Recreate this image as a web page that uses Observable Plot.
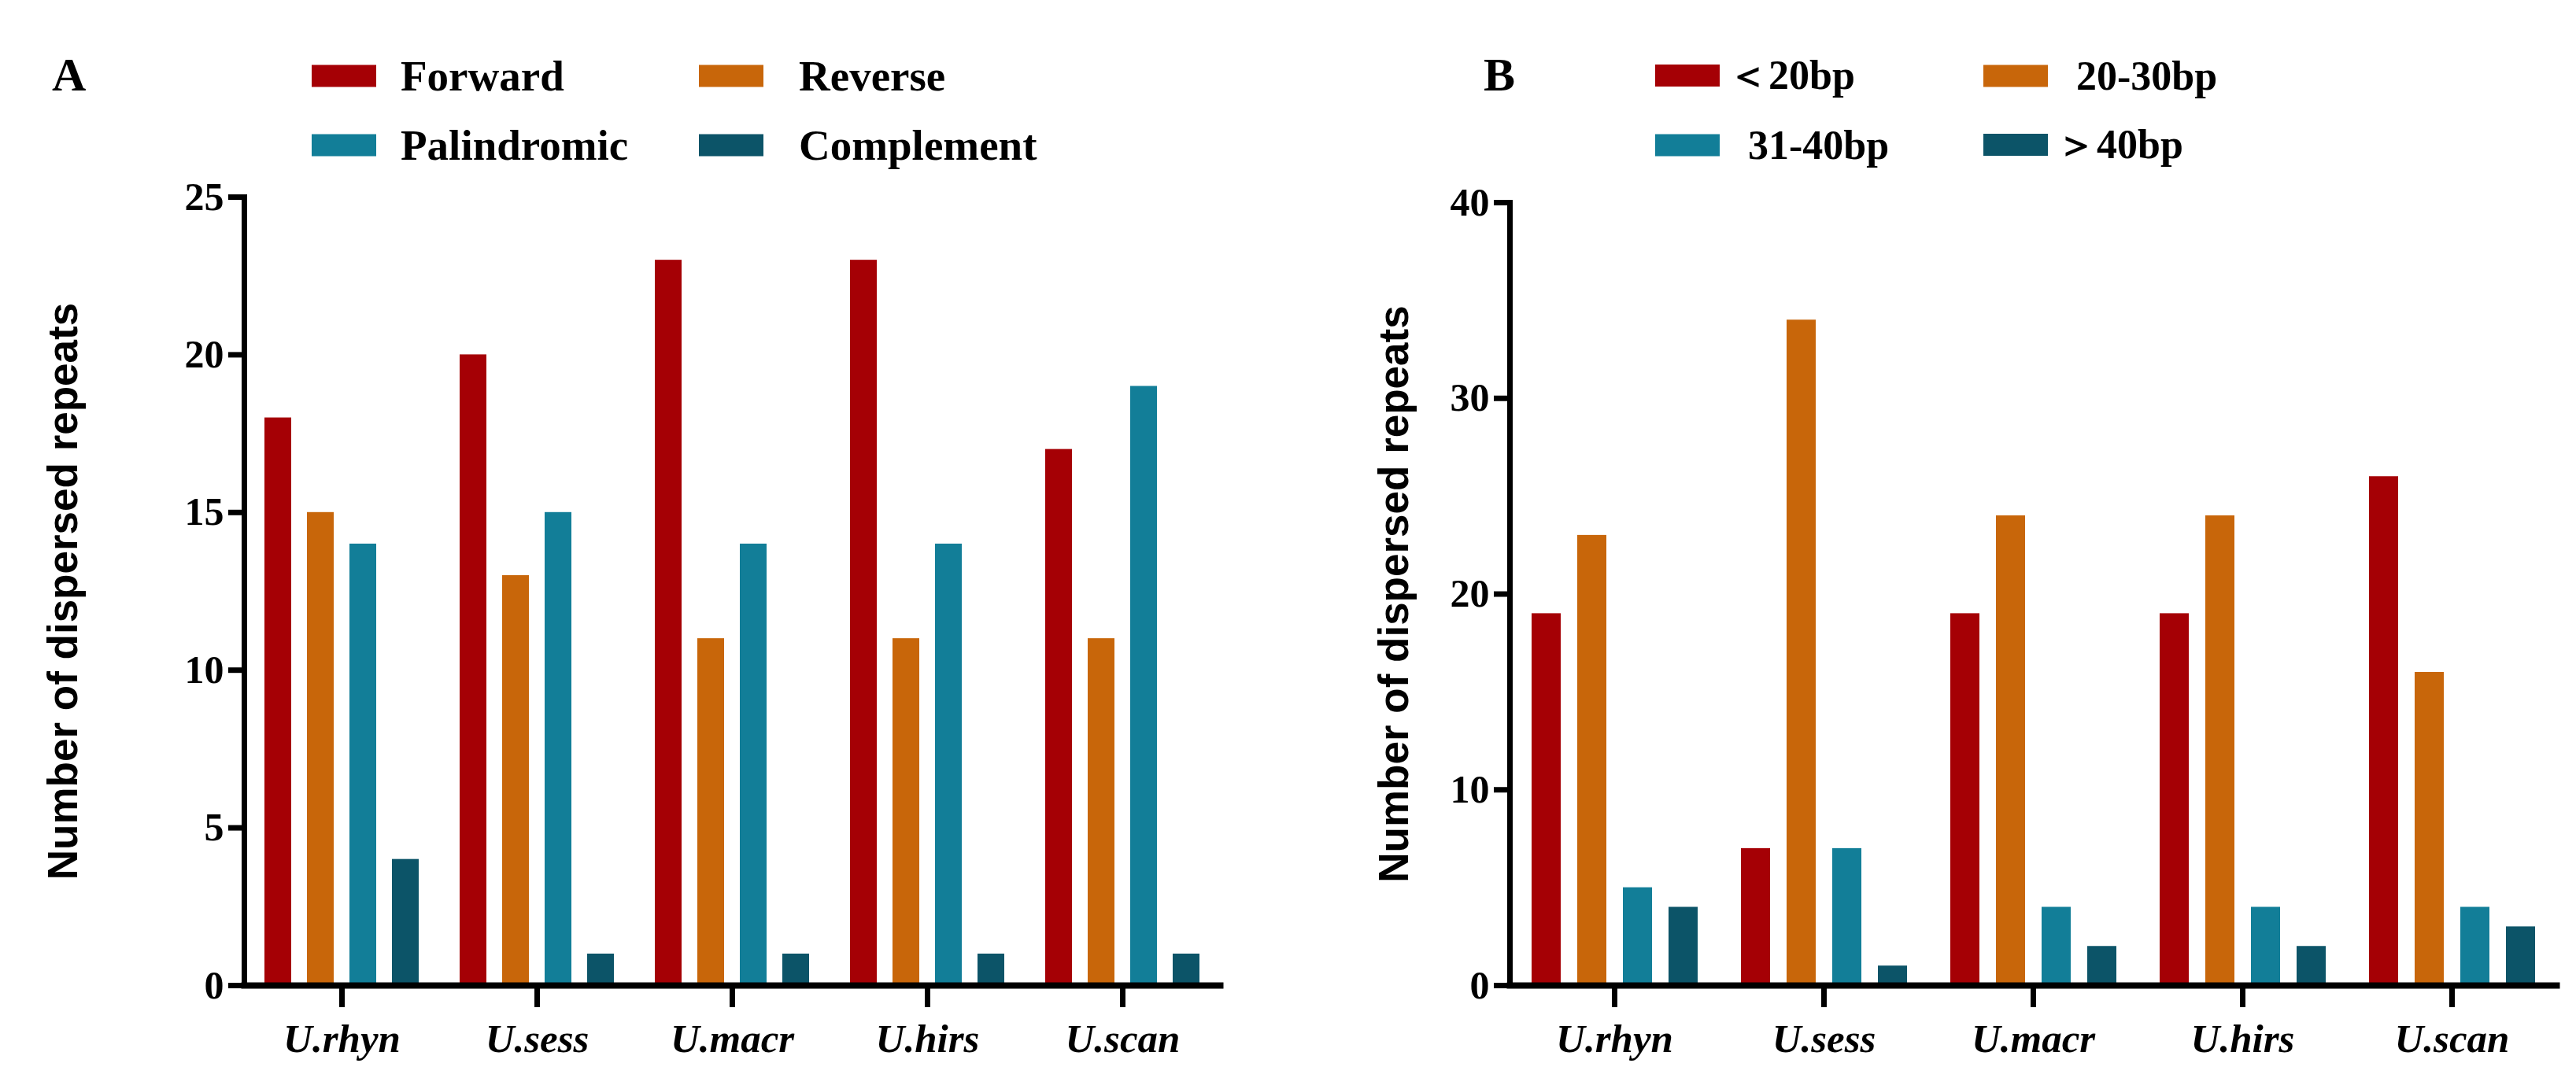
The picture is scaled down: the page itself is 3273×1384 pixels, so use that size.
<!DOCTYPE html>
<html>
<head>
<meta charset="utf-8">
<script src="https://cdn.jsdelivr.net/npm/d3@7"></script>
<script src="https://cdn.jsdelivr.net/npm/@observablehq/plot@0.6"></script>
<style>
html, body { margin: 0; padding: 0; background: #fff; }
#root { position: relative; width: 3273px; height: 1384px; overflow: hidden; background: #fff; }
.panel { position: absolute; top: 180px; }
.tag { position: absolute; font: bold 60px "Liberation Serif", serif; line-height: 1; }
.item { position: absolute; display: flex; align-items: center; white-space: nowrap;
        font-family: "Liberation Serif", serif; font-weight: bold; transform: translateY(-50%); }
.sw { width: 82px; height: 28px; }
svg g[aria-label="fx-axis tick label"] { font-style: italic; }
svg g[aria-label="y-axis label"] { font-family: "Liberation Sans", Arial, sans-serif; }
</style>
</head>
<body>
<div id="root"></div>
<script>
// ---- data ----
const categories = ["U.rhyn", "U.sess", "U.macr", "U.hirs", "U.scan"];

const seriesA = ["Forward", "Reverse", "Palindromic", "Complement"];
const forward = [18, 20, 23, 23, 17];
const reverse = [15, 13, 11, 11, 11];
const palindromic = [14, 15, 14, 14, 19];
const complement = [4, 1, 1, 1, 1];

const seriesB = ["＜20bp", "20-30bp", "31-40bp", "＞40bp"];
const lt20 = [19, 7, 19, 19, 26];
const bp20to30 = [23, 34, 24, 24, 16];
const bp31to40 = [5, 7, 4, 4, 4];
const gt40 = [4, 1, 2, 2, 3];

const yTicksA = [0, 5, 10, 15, 20, 25];
const yTicksB = [0, 10, 20, 30, 40];
const yTitle = "Number of dispersed repeats";
const palette = ["#A50005", "#C8660A", "#127E98", "#0C5468"];

function tidy(series, lists) {
  const rows = [];
  series.forEach((s, i) => categories.forEach((c, j) => rows.push({cat: c, series: s, value: lists[i][j]})));
  return rows;
}
const dataA = tidy(seriesA, [forward, reverse, palindromic, complement]);
const dataB = tidy(seriesB, [lt20, bp20to30, bp31to40, gt40]);

function panel(data, series, yTicks, o) {
  return Plot.plot({
    width: o.width, height: 1204,
    marginLeft: o.marginLeft, marginRight: o.marginRight,
    marginTop: o.marginTop, marginBottom: 132,
    style: {background: "transparent", color: "black", fontFamily: "'Liberation Serif', serif",
            fontWeight: "bold", fontSize: "50px", overflow: "visible"},
    fx: {domain: categories, padding: 0, label: null},
    x: {domain: series, paddingInner: 0.37, paddingOuter: 0.45, axis: null},
    y: {domain: [yTicks[0], yTicks[yTicks.length - 1]], axis: null},
    color: {domain: series, range: palette},
    marks: [
      Plot.barY(data, {fx: "cat", x: "series", y: "value", fill: "series"}),
      Plot.frame({anchor: "left", facet: "super", stroke: "black", strokeWidth: 7}),
      Plot.frame({anchor: "bottom", facet: "super", stroke: "black", strokeWidth: 8}),
      Plot.axisY({ticks: yTicks, tickFormat: d => String(d), tickSize: 20, tickPadding: 6,
                  strokeWidth: 7, fontSize: 50, label: yTitle, labelAnchor: "center",
                  labelArrow: "none", labelOffset: o.labelOffset}),
      Plot.axisFx({anchor: "bottom", tickSize: 28, tickPadding: 20, strokeWidth: 7, fontSize: 51, label: null})
    ]
  });
}

const root = document.getElementById("root");

const svgA = panel(dataA, seriesA, yTicksA, {width: 1600, marginLeft: 309, marginRight: 49, marginTop: 70, labelOffset: 250});
svgA.classList.add("panel"); svgA.style.left = "0px";
svgA.querySelectorAll('g[aria-label="y-axis label"] text').forEach(t => t.style.fontSize = "53px");
root.appendChild(svgA);

const svgB = panel(dataB, seriesB, yTicksB, {width: 1657, marginLeft: 300, marginRight: 23, marginTop: 77, labelOffset: 167});
svgB.classList.add("panel"); svgB.style.left = "1616px";
svgB.querySelectorAll('g[aria-label="y-axis label"] text').forEach(t => t.style.fontSize = "53px");
root.appendChild(svgB);

function tag(text, x, y) {
  const d = document.createElement("div");
  d.className = "tag"; d.textContent = text;
  d.style.left = x + "px"; d.style.top = y + "px";
  root.appendChild(d);
}
tag("A", 66, 65);
tag("B", 1885, 65);

function legend(series, cols, rows, gaps, size) {
  series.forEach((s, i) => {
    const it = document.createElement("div");
    it.className = "item";
    it.style.fontSize = size + "px";
    it.style.left = cols[i % 2] + "px";
    it.style.top = rows[Math.floor(i / 2)] + "px";
    const sw = document.createElement("div");
    sw.className = "sw"; sw.style.background = palette[i]; sw.style.marginRight = gaps[i] + "px";
    const t = document.createElement("span"); t.textContent = s;
    it.appendChild(sw); it.appendChild(t);
    root.appendChild(it);
  });
}
legend(seriesA, [396, 888], [96, 184], [31, 45, 31, 45], 55);
legend(seriesB, [2103, 2520], [96, 184], [10, 36, 36, 10], 52);
</script>
</body>
</html>
